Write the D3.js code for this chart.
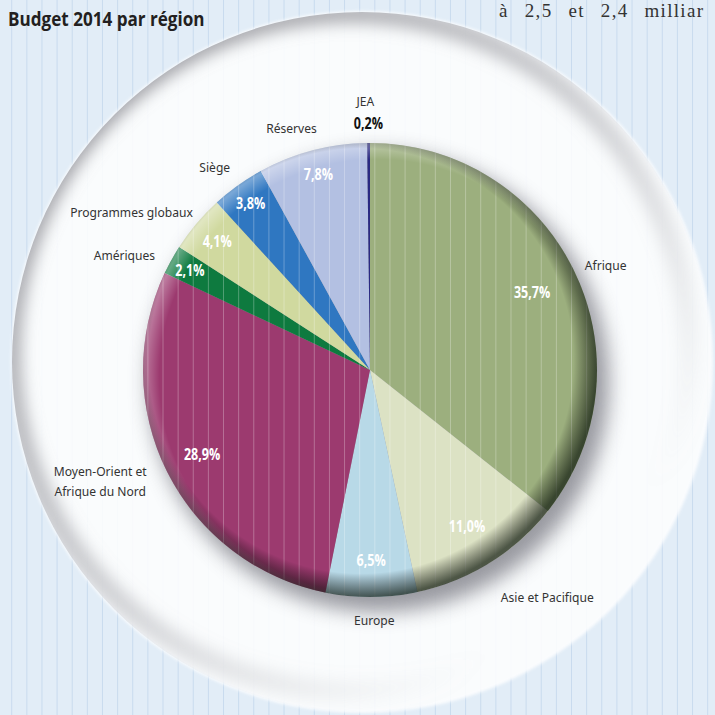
<!DOCTYPE html>
<html>
<head>
<meta charset="utf-8">
<script src="https://cdn.jsdelivr.net/npm/d3@7/dist/d3.min.js"></script>
<style>
  html, body { margin: 0; padding: 0; background: #e2edf7; }
  svg { display: block; }
</style>
</head>
<body>
<svg id="chart" width="715" height="715"></svg>
<script>
// Budget 2014 par région — shares in percent, clockwise from 12 o'clock
const regions = ["Afrique", "Asie et Pacifique", "Europe", "Moyen-Orient et Afrique du Nord",
                 "Amériques", "Programmes globaux", "Siège", "Réserves", "JEA"];
const shares = [35.7, 11.0, 6.5, 28.9, 2.1, 4.1, 3.8, 7.8, 0.2];
const sliceColors = ["#9caf7e", "#dce2c4", "#b8d9e7", "#9c3a6f", "#0e7a3f",
                     "#d0d99f", "#2f77c1", "#b3c0e2", "#2a2a82"];
// region names split over lines
const nameLines = [["Afrique"], ["Asie et Pacifique"], ["Europe"], ["Moyen-Orient et", "Afrique du Nord"],
                   ["Amériques"], ["Programmes globaux"], ["Siège"], ["Réserves"], ["JEA"]];

// label layout: radius of the percentage, polar placement [angle°, radius] of the name
const pctRadius = [180, 184, 190, 188, 206, 200, 205, 203, 247];
const namePolar = [[66, 258], [142, 288], [179, 250], [247.5, 292], [295, 271],
                   [303.5, 286], [322.5, 255], [342, 254], [359, 269]];

const W = 715, H = 715;
const cx = 370, cy = 370, R = 227;
const plate = { x: 362, y: 362, r: 351 };

const svg = d3.select("#chart");
const defs = svg.append("defs");

const fr = d3.formatLocale({ decimal: ",", thousands: " ", grouping: [3], currency: ["", " €"] });
const pct = v => fr.format(".1f")(v) + "%";

// filters
const blur = (id, sd) => defs.append("filter").attr("id", id)
  .attr("x", "-20%").attr("y", "-20%").attr("width", "140%").attr("height", "140%")
  .append("feGaussianBlur").attr("stdDeviation", sd);
blur("soft", 1.5);
blur("shadowBlur", 10);
blur("ringBlur", 8);

defs.append("clipPath").attr("id", "plateClip")
  .append("circle").attr("cx", plate.x).attr("cy", plate.y).attr("r", plate.r - 1);
defs.append("clipPath").attr("id", "pieClip")
  .append("circle").attr("cx", cx).attr("cy", cy).attr("r", R);

// shading of the plate rim, strongest toward the upper left
const ringGrad = defs.append("linearGradient").attr("id", "ringGrad")
  .attr("gradientUnits", "userSpaceOnUse")
  .attr("x1", plate.x - plate.r * 0.75).attr("y1", plate.y - plate.r * 0.75)
  .attr("x2", plate.x + plate.r * 0.6).attr("y2", plate.y + plate.r * 0.6);
ringGrad.append("stop").attr("offset", 0).attr("stop-color", "#8c8c92").attr("stop-opacity", 0.85);
ringGrad.append("stop").attr("offset", 0.55).attr("stop-color", "#9a9aa0").attr("stop-opacity", 0.45);
ringGrad.append("stop").attr("offset", 1).attr("stop-color", "#a0a0a6").attr("stop-opacity", 0);

// rim shading of the pie: dark toward bottom-right, light toward top-left
const dark = defs.append("radialGradient").attr("id", "rimDark")
  .attr("gradientUnits", "userSpaceOnUse")
  .attr("cx", cx - 9).attr("cy", cy - 9).attr("r", R + 9);
dark.append("stop").attr("offset", 0.9).attr("stop-color", "#000").attr("stop-opacity", 0);
dark.append("stop").attr("offset", 1).attr("stop-color", "#0a140a").attr("stop-opacity", 0.68);

const light = defs.append("radialGradient").attr("id", "rimLight")
  .attr("gradientUnits", "userSpaceOnUse")
  .attr("cx", cx + 7).attr("cy", cy + 7).attr("r", R + 7);
light.append("stop").attr("offset", 0.93).attr("stop-color", "#fff").attr("stop-opacity", 0);
light.append("stop").attr("offset", 1).attr("stop-color", "#fff").attr("stop-opacity", 0.35);

// background and vertical rules
svg.append("rect").attr("width", W).attr("height", H).attr("fill", "#e2edf7");
const stripeX = d3.range(0, 48).map(k => 11.7 + 15.13 * k);
svg.append("g").selectAll("line").data(stripeX).join("line")
  .attr("x1", d => d).attr("x2", d => d).attr("y1", 0).attr("y2", H)
  .attr("stroke", "#c9dbee").attr("stroke-width", 1);

// white plate behind the pie
svg.append("circle").attr("cx", plate.x).attr("cy", plate.y).attr("r", plate.r)
  .attr("fill", "#fff").attr("opacity", 0.86).attr("filter", "url(#soft)");
svg.append("g").attr("clip-path", "url(#plateClip)")
  .append("circle").attr("cx", plate.x - 12).attr("cy", plate.y - 10).attr("r", plate.r - 12)
  .attr("fill", "none").attr("stroke", "url(#ringGrad)").attr("stroke-width", 20)
  .attr("filter", "url(#ringBlur)");

// drop shadow of the pie
svg.append("circle").attr("cx", cx + 9).attr("cy", cy + 12).attr("r", R + 3)
  .attr("fill", "#5d5d68").attr("opacity", 0.62).attr("filter", "url(#shadowBlur)");

// slices
const arcs = d3.pie().sort(null).value(d => d)(shares);
const arc = d3.arc().innerRadius(0).outerRadius(R);
const g = svg.append("g").attr("transform", `translate(${cx},${cy})`);
g.selectAll("path").data(arcs).join("path")
  .attr("d", arc)
  .attr("fill", (d, i) => sliceColors[i]);

// light rules across the pie
svg.append("g").attr("clip-path", "url(#pieClip)")
  .selectAll("line").data(stripeX).join("line")
  .attr("x1", d => d).attr("x2", d => d).attr("y1", cy - R).attr("y2", cy + R)
  .attr("stroke", "#fff").attr("stroke-opacity", 0.28).attr("stroke-width", 1);

svg.append("circle").attr("cx", cx).attr("cy", cy).attr("r", R).attr("fill", "url(#rimLight)");
svg.append("circle").attr("cx", cx).attr("cy", cy).attr("r", R).attr("fill", "url(#rimDark)");

// percentage labels
const polar = (deg, r) => [cx + r * Math.sin(deg * Math.PI / 180), cy - r * Math.cos(deg * Math.PI / 180)];
const midDeg = d => (d.startAngle + d.endAngle) / 2 * 180 / Math.PI;

const boldFont = "'Open Sans', 'Noto Sans', sans-serif";
const labelFont = "'Noto Sans', 'Open Sans', sans-serif";

svg.append("g").selectAll("text").data(arcs).join("text")
  .attr("transform", (d, i) => {
    const [x, y] = polar(midDeg(d), pctRadius[i]);
    return `translate(${x},${y}) scale(0.76,1)`;
  })
  .attr("dy", "0.36em")
  .attr("text-anchor", "middle")
  .attr("font-family", boldFont).attr("font-weight", "bold").attr("font-size", 16.5)
  .attr("fill", (d, i) => i === arcs.length - 1 ? "#111" : "#fff")
  .text(d => pct(d.data));

// region names
const names = svg.append("g").selectAll("text").data(arcs).join("text")
  .attr("text-anchor", "middle")
  .attr("font-family", labelFont).attr("font-size", 13).attr("fill", "#333")
  .attr("transform", (d, i) => {
    const [x, y] = polar(namePolar[i][0], namePolar[i][1]);
    return `translate(${x},${y}) scale(0.93,1)`;
  });
names.each(function (d, i) {
  const lines = nameLines[i];
  d3.select(this).selectAll("tspan").data(lines).join("tspan")
    .attr("x", 0)
    .attr("y", (l, j) => (j - (lines.length - 1) / 2) * 20)
    .attr("dy", "0.35em")
    .text(l => l);
});

// title
svg.append("text").attr("transform", "translate(8,26) scale(0.9,1)")
  .attr("font-family", boldFont).attr("font-weight", "bold").attr("font-size", 19)
  .attr("fill", "#231f20").text("Budget 2014 par région");

// running text from the facing column
svg.append("text").attr("x", 499).attr("y", 17)
  .attr("font-family", "'Liberation Serif', 'DejaVu Serif', serif").attr("font-size", 19)
  .attr("letter-spacing", 1.3).attr("word-spacing", 10)
  .attr("fill", "#333").text("à 2,5 et 2,4 milliar");
</script>
</body>
</html>
